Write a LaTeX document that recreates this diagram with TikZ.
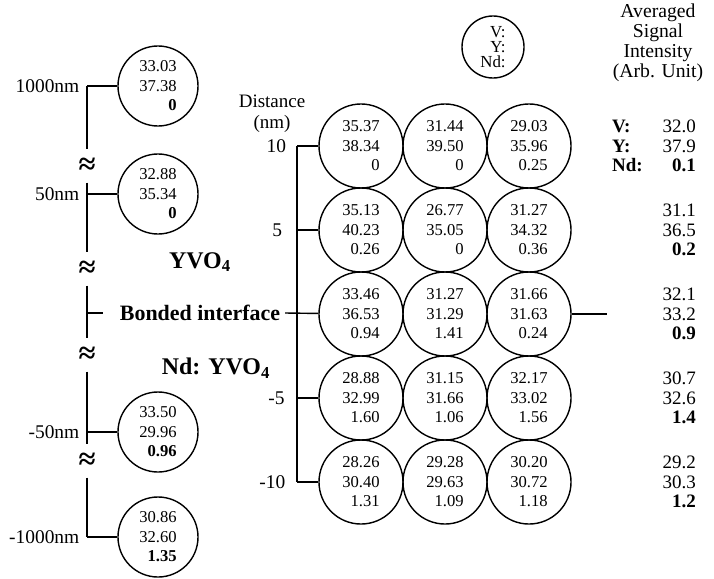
\documentclass[tikz,border=0pt]{standalone}
\usepackage{fontspec}
\setmainfont{Liberation Serif}
\usetikzlibrary{positioning}

\begin{document}
\begin{tikzpicture}[x=0.025cm, y=-0.025cm, line width=1pt,
  spot/.style={draw, circle, minimum size=2.1cm, inner sep=0pt, align=right,
               font=\fontsize{11.8}{13.9}\selectfont},
  side/.style={spot, minimum size=2cm},
  keyspot/.style={spot, minimum size=1.55cm, font=\fontsize{12}{10.8}\selectfont},
  lab/.style={inner sep=1pt, font=\fontsize{13.8}{15}\selectfont},
  big/.style={inner sep=1pt, font=\fontsize{15.6}{18}\selectfont\bfseries},
  brk/.style={inner sep=0pt, minimum height=0.8cm, font=\fontsize{22}{22}\selectfont\bfseries},
  val/.style={inner sep=1pt, align=right, font=\fontsize{13.5}{14}\selectfont}]
\useasboundingbox (0,0) rectangle (714,578);

% --- Left column: far from the interface ---
\node[side] (c1) at (158,86) {33.03\\37.38\\\textbf{0}};
\node[side] (c2) at (158,194) {32.88\\35.34\\\textbf{0}};
\node[side] (c3) at (158,432) {33.50\\29.96\\\textbf{0.96}};
\node[side] (c4) at (158,537) {30.86\\32.60\\\textbf{1.35}};

\coordinate (t1) at (87,86);
\coordinate (t2) at (87,194);
\coordinate (ti) at (87,313);
\coordinate (tie) at (103,313);
\coordinate (t3) at (87,432);
\coordinate (t4) at (87,537);

% breaks in the depth scale
\node[brk] (b1) at (87,166) {≈};
\node[brk] (b2) at (87,269) {≈};
\node[brk] (b3) at (87,355) {≈};
\node[brk] (b4) at (87,461) {≈};

\draw (t1) -- (b1.north);
\draw (b1.south) -- (b2.north);
\draw (b2.south) -- (b3.north);
\draw (b3.south) -- (b4.north);
\draw (b4.south) -- (t4);
\draw (t1) -- (c1);
\draw (t2) -- (c2);
\draw (t3) -- (c3);
\draw (t4) -- (c4);
\draw (ti) -- (tie);

\node[lab, left=0.14cm of t1] {1000nm};
\node[lab, left=0.14cm of t2] {50nm};
\node[lab, left=0.14cm of t3] {-50nm};
\node[lab, left=0.14cm of t4] {-1000nm};

% materials and interface
\node[big, font=\fontsize{17}{18}\selectfont\bfseries] (yvo) at (200,262) {YVO\textsubscript{4}};
\node[big, font=\fontsize{17}{18}\selectfont\bfseries] (ndyvo) at (216,368) {Nd: YVO\textsubscript{4}};
\node[big, anchor=west, inner xsep=3pt] (bif) at (115,313) {Bonded interface};

% --- Grid of spots near the interface ---
\node[spot] (g11) at (361,146) {35.37\\38.34\\0};
\node[spot] (g12) at (445,146) {31.44\\39.50\\0};
\node[spot] (g13) at (529,146) {29.03\\35.96\\0.25};

\node[spot] (g21) at (361,230) {35.13\\40.23\\0.26};
\node[spot] (g22) at (445,230) {26.77\\35.05\\0};
\node[spot] (g23) at (529,230) {31.27\\34.32\\0.36};

\node[spot] (g31) at (361,314) {33.46\\36.53\\0.94};
\node[spot] (g32) at (445,314) {31.27\\31.29\\1.41};
\node[spot] (g33) at (529,314) {31.66\\31.63\\0.24};

\node[spot] (g41) at (361,398) {28.88\\32.99\\1.60};
\node[spot] (g42) at (445,398) {31.15\\31.66\\1.06};
\node[spot] (g43) at (529,398) {32.17\\33.02\\1.56};

\node[spot] (g51) at (361,482) {28.26\\30.40\\1.31};
\node[spot] (g52) at (445,482) {29.28\\29.63\\1.09};
\node[spot] (g53) at (529,482) {30.20\\30.72\\1.18};

% distance axis
\coordinate (a1) at (297,146);
\coordinate (a2) at (297,230);
\coordinate (a4) at (297,398);
\coordinate (a5) at (297,482);
\coordinate (re) at (607,314);

\draw (a1) -- (a5);
\draw (a1) -- (g11);
\draw (a2) -- (g21);
\draw (bif.east) -- (g31);
\draw (a4) -- (g41);
\draw (a5) -- (g51);
\draw (g33) -- (re);

\node[lab, left=0.22cm of a1] {10};
\node[lab, left=0.32cm of a2] {5};
\node[lab, left=0.26cm of a4] {-5};
\node[lab, left=0.24cm of a5] {-10};
\node[lab, align=center, font=\fontsize{13.5}{15}\selectfont] (dist) at (272,114) {Distance\\(nm)};

% legend spot
\node[keyspot] (key) at (493,47) {V:\\Y:\\Nd:};

% --- Right column: averages per row ---
\node[lab, align=center, font=\fontsize{14}{14.3}\selectfont] (head) at (658,43)
     {Averaged\\Signal\\Intensity\\(Arb. Unit)};

\node[val, anchor=west, align=left, font=\fontsize{13.5}{14}\selectfont\bfseries] (elem) at (610,146) {V:\\Y:\\Nd:};
\node[val, anchor=east] (v1) at (698,146) {32.0\\37.9\\\textbf{0.1}};
\node[val, anchor=east] (v2) at (698,230) {31.1\\36.5\\\textbf{0.2}};
\node[val, anchor=east] (v3) at (698,314) {32.1\\33.2\\\textbf{0.9}};
\node[val, anchor=east] (v4) at (698,398) {30.7\\32.6\\\textbf{1.4}};
\node[val, anchor=east] (v5) at (698,482) {29.2\\30.3\\\textbf{1.2}};

\end{tikzpicture}
\end{document}
